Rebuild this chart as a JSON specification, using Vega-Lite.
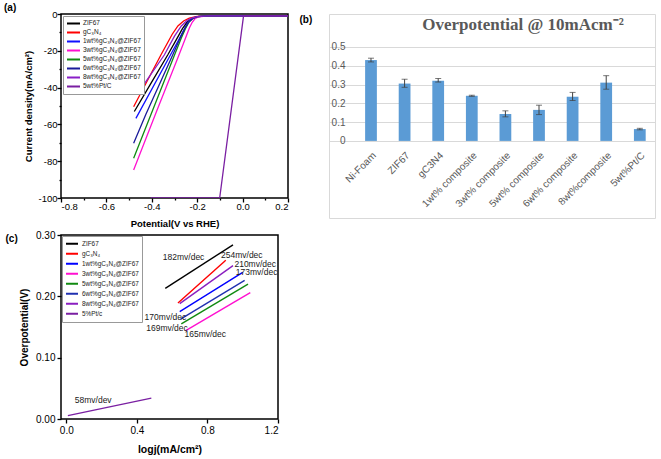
{
  "$schema": "https://vega.github.io/schema/vega-lite/v6.json",
  "background": "white",
  "padding": {"left": 3, "top": 2, "right": 2, "bottom": 2},
  "config": {"font": "Arial", "axis": {"labelOverlap": false}, "locale": {"number": {"decimal": ".", "thousands": ",", "grouping": [3], "currency": ["$", ""], "minus": "-"}}},
  "datasets": {
    "lsv": [
      {"sample": "ZIF67", "v": -0.477, "j": -53}, {"sample": "ZIF67", "v": -0.40, "j": -36.9}, {"sample": "ZIF67", "v": -0.33, "j": -22.3}, {"sample": "ZIF67", "v": -0.29, "j": -13.5}, {"sample": "ZIF67", "v": -0.265, "j": -8}, {"sample": "ZIF67", "v": -0.245, "j": -4.5}, {"sample": "ZIF67", "v": -0.225, "j": -2.5}, {"sample": "ZIF67", "v": -0.2, "j": -1.4}, {"sample": "ZIF67", "v": -0.15, "j": -1.0}, {"sample": "ZIF67", "v": 0.2, "j": -1.0},
      {"sample": "gC₃N₄", "v": -0.48, "j": -50.4}, {"sample": "gC₃N₄", "v": -0.36, "j": -22.3}, {"sample": "gC₃N₄", "v": -0.31, "j": -11}, {"sample": "gC₃N₄", "v": -0.285, "j": -6.5}, {"sample": "gC₃N₄", "v": -0.26, "j": -3.8}, {"sample": "gC₃N₄", "v": -0.235, "j": -2.3}, {"sample": "gC₃N₄", "v": -0.2, "j": -1.3}, {"sample": "gC₃N₄", "v": -0.15, "j": -1.0}, {"sample": "gC₃N₄", "v": 0.2, "j": -1.0},
      {"sample": "1wt%gC₃N₄@ZIF67", "v": -0.47, "j": -56.7}, {"sample": "1wt%gC₃N₄@ZIF67", "v": -0.318, "j": -22.3}, {"sample": "1wt%gC₃N₄@ZIF67", "v": -0.28, "j": -13.7}, {"sample": "1wt%gC₃N₄@ZIF67", "v": -0.258, "j": -8.5}, {"sample": "1wt%gC₃N₄@ZIF67", "v": -0.24, "j": -4.5}, {"sample": "1wt%gC₃N₄@ZIF67", "v": -0.222, "j": -2.5}, {"sample": "1wt%gC₃N₄@ZIF67", "v": -0.2, "j": -1.4}, {"sample": "1wt%gC₃N₄@ZIF67", "v": -0.15, "j": -1.0}, {"sample": "1wt%gC₃N₄@ZIF67", "v": 0.2, "j": -1.0},
      {"sample": "3wt%gC₃N₄@ZIF67", "v": -0.48, "j": -84.8}, {"sample": "3wt%gC₃N₄@ZIF67", "v": -0.381, "j": -53.5}, {"sample": "3wt%gC₃N₄@ZIF67", "v": -0.286, "j": -24}, {"sample": "3wt%gC₃N₄@ZIF67", "v": -0.262, "j": -16.5}, {"sample": "3wt%gC₃N₄@ZIF67", "v": -0.245, "j": -11}, {"sample": "3wt%gC₃N₄@ZIF67", "v": -0.234, "j": -7.5}, {"sample": "3wt%gC₃N₄@ZIF67", "v": -0.222, "j": -4.5}, {"sample": "3wt%gC₃N₄@ZIF67", "v": -0.21, "j": -2.6}, {"sample": "3wt%gC₃N₄@ZIF67", "v": -0.195, "j": -1.6}, {"sample": "3wt%gC₃N₄@ZIF67", "v": -0.15, "j": -1.0}, {"sample": "3wt%gC₃N₄@ZIF67", "v": 0.2, "j": -1.0},
      {"sample": "5wt%gC₃N₄@ZIF67", "v": -0.48, "j": -78.4}, {"sample": "5wt%gC₃N₄@ZIF67", "v": -0.30, "j": -22.3}, {"sample": "5wt%gC₃N₄@ZIF67", "v": -0.27, "j": -13}, {"sample": "5wt%gC₃N₄@ZIF67", "v": -0.252, "j": -8}, {"sample": "5wt%gC₃N₄@ZIF67", "v": -0.236, "j": -4.3}, {"sample": "5wt%gC₃N₄@ZIF67", "v": -0.218, "j": -2.3}, {"sample": "5wt%gC₃N₄@ZIF67", "v": -0.2, "j": -1.4}, {"sample": "5wt%gC₃N₄@ZIF67", "v": -0.15, "j": -1.0}, {"sample": "5wt%gC₃N₄@ZIF67", "v": 0.2, "j": -1.0},
      {"sample": "6wt%gC₃N₄@ZIF67", "v": -0.48, "j": -70.3}, {"sample": "6wt%gC₃N₄@ZIF67", "v": -0.426, "j": -54.5}, {"sample": "6wt%gC₃N₄@ZIF67", "v": -0.308, "j": -22.3}, {"sample": "6wt%gC₃N₄@ZIF67", "v": -0.275, "j": -13}, {"sample": "6wt%gC₃N₄@ZIF67", "v": -0.255, "j": -8}, {"sample": "6wt%gC₃N₄@ZIF67", "v": -0.238, "j": -4.5}, {"sample": "6wt%gC₃N₄@ZIF67", "v": -0.22, "j": -2.4}, {"sample": "6wt%gC₃N₄@ZIF67", "v": -0.2, "j": -1.4}, {"sample": "6wt%gC₃N₄@ZIF67", "v": -0.15, "j": -1.0}, {"sample": "6wt%gC₃N₄@ZIF67", "v": 0.2, "j": -1.0},
      {"sample": "8wt%gC₃N₄@ZIF67", "v": -0.447, "j": -40.4}, {"sample": "8wt%gC₃N₄@ZIF67", "v": -0.345, "j": -22.3}, {"sample": "8wt%gC₃N₄@ZIF67", "v": -0.3, "j": -12}, {"sample": "8wt%gC₃N₄@ZIF67", "v": -0.27, "j": -6.5}, {"sample": "8wt%gC₃N₄@ZIF67", "v": -0.245, "j": -3.5}, {"sample": "8wt%gC₃N₄@ZIF67", "v": -0.225, "j": -2.2}, {"sample": "8wt%gC₃N₄@ZIF67", "v": -0.2, "j": -1.4}, {"sample": "8wt%gC₃N₄@ZIF67", "v": -0.15, "j": -1.0}, {"sample": "8wt%gC₃N₄@ZIF67", "v": 0.2, "j": -1.0},
      {"sample": "5wt%Pt/C", "v": -0.405, "j": -100}, {"sample": "5wt%Pt/C", "v": -0.101, "j": -100}, {"sample": "5wt%Pt/C", "v": 0.004, "j": -1.2}, {"sample": "5wt%Pt/C", "v": 0.02, "j": -1.0}, {"sample": "5wt%Pt/C", "v": 0.2, "j": -1.0}
    ],
    "tafel": [
      {"series": "ZIF67", "lj": 0.561, "eta": 0.213}, {"series": "ZIF67", "lj": 0.945, "eta": 0.284},
      {"series": "gC₃N₄", "lj": 0.633, "eta": 0.189}, {"series": "gC₃N₄", "lj": 0.904, "eta": 0.259},
      {"series": "1wt%gC₃N₄@ZIF67", "lj": 0.643, "eta": 0.175}, {"series": "1wt%gC₃N₄@ZIF67", "lj": 1.0, "eta": 0.239},
      {"series": "3wt%gC₃N₄@ZIF67", "lj": 0.677, "eta": 0.144}, {"series": "3wt%gC₃N₄@ZIF67", "lj": 1.043, "eta": 0.206},
      {"series": "5wt%gC₃N₄@ZIF67", "lj": 0.652, "eta": 0.155}, {"series": "5wt%gC₃N₄@ZIF67", "lj": 1.03, "eta": 0.220},
      {"series": "6wt%gC₃N₄@ZIF67", "lj": 0.648, "eta": 0.163}, {"series": "6wt%gC₃N₄@ZIF67", "lj": 1.011, "eta": 0.226},
      {"series": "8wt%gC₃N₄@ZIF67", "lj": 0.643, "eta": 0.188}, {"series": "8wt%gC₃N₄@ZIF67", "lj": 0.945, "eta": 0.250},
      {"series": "5%Pt/c", "lj": 0.009, "eta": 0.0054}, {"series": "5%Pt/c", "lj": 0.482, "eta": 0.034}
    ],
    "ann": [
      {"t": "182mv/dec", "x": 0.547, "y": 0.264},
      {"t": "254mv/dec", "x": 0.877, "y": 0.268},
      {"t": "210mv/dec", "x": 0.953, "y": 0.253},
      {"t": "173mv/dec", "x": 0.961, "y": 0.239},
      {"t": "170mv/dec", "x": 0.444, "y": 0.167},
      {"t": "169mv/dec", "x": 0.453, "y": 0.148},
      {"t": "165mv/dec", "x": 0.670, "y": 0.139},
      {"t": "58mv/dev", "x": 0.048, "y": 0.0315}
    ],
    "overpot": [
      {"cat": "Ni-Foam", "v": 0.43, "lo": 0.42, "hi": 0.44},
      {"cat": "ZIF67", "v": 0.305, "lo": 0.285, "hi": 0.328},
      {"cat": "gC3N4", "v": 0.32, "lo": 0.313, "hi": 0.332},
      {"cat": "1wt% composite", "v": 0.24, "lo": 0.237, "hi": 0.243},
      {"cat": "3wt% composite", "v": 0.143, "lo": 0.128, "hi": 0.16},
      {"cat": "5wt% composite", "v": 0.165, "lo": 0.14, "hi": 0.19},
      {"cat": "6wt% composite", "v": 0.235, "lo": 0.215, "hi": 0.258},
      {"cat": "8wt%composite", "v": 0.31, "lo": 0.275, "hi": 0.347},
      {"cat": "5wt%Pt/C", "v": 0.063, "lo": 0.059, "hi": 0.067}
    ]
  },
  "spacing": 8,
  "hconcat": [
    {
      "vconcat": [
        {
          "width": 227,
          "height": 184,
          "title": {"text": "(a)", "anchor": "start", "frame": "bounds", "fontSize": 10, "fontWeight": "bold", "dx": -20, "offset": -4},
          "view": {"stroke": "black", "strokeWidth": 1.5},
          "data": {"name": "lsv"},
          "mark": {"type": "line", "strokeWidth": 1.3, "clip": true},
          "encoding": {
            "x": {"field": "v", "type": "quantitative", "scale": {"domain": [-0.8, 0.2], "nice": false, "zero": false},
              "axis": {"values": [-0.8, -0.7, -0.6, -0.5, -0.4, -0.3, -0.2, -0.1, 0, 0.1, 0.2],
                "labelExpr": "abs(round(datum.value * 10)) % 2 == 0 ? format(datum.value, '.1f') : ''",
                "tickSize": {"condition": {"test": "abs(round(datum.value * 10)) % 2 == 0", "value": 4}, "value": 2},
                "labelOverlap": false, "labelBound": false,
                "title": "Potential(V vs RHE)", "titleFontSize": 9.5, "titleFontWeight": "bold", "titleColor": "black", "labelFontSize": 9.5, "labelColor": "black", "tickColor": "black", "tickWidth": 1.3, "domain": false, "grid": false, "labelPadding": -1, "titlePadding": 8}},
            "y": {"field": "j", "type": "quantitative", "scale": {"domain": [-100, 0], "nice": false, "zero": false},
              "axis": {"values": [-100, -90, -80, -70, -60, -50, -40, -30, -20, -10, 0],
                "labelExpr": "abs(round(datum.value)) % 20 == 0 ? format(datum.value, 'd') : ''",
                "tickSize": {"condition": {"test": "abs(round(datum.value)) % 20 == 0", "value": 4}, "value": 2},
                "labelOverlap": false, "labelBound": false,
                "title": "Current density(mA/cm²)", "titleFontSize": 9.5, "titleFontWeight": "bold", "titleColor": "black", "labelFontSize": 9.5, "labelColor": "black", "tickColor": "black", "tickWidth": 1.3, "domain": false, "grid": false, "labelPadding": 0, "titlePadding": 4}},
            "color": {"field": "sample", "type": "nominal",
              "scale": {"domain": ["ZIF67", "gC₃N₄", "1wt%gC₃N₄@ZIF67", "3wt%gC₃N₄@ZIF67", "5wt%gC₃N₄@ZIF67", "6wt%gC₃N₄@ZIF67", "8wt%gC₃N₄@ZIF67", "5wt%Pt/C"],
                "range": ["#000000", "#ff0000", "#1010ff", "#ff10d0", "#108a10", "#1a1a9a", "#8a1fc8", "#7a1fa2"]},
              "legend": {"title": null, "orient": "top-left", "offset": 2, "padding": 3, "strokeColor": "#999", "fillColor": "white", "symbolType": "stroke", "symbolSize": 169, "symbolStrokeWidth": 2, "labelFontSize": 6.5, "labelColor": "#222", "rowPadding": 0, "clipHeight": 8.8, "labelOffset": 2}}
          }
        },
        {
          "width": 217,
          "height": 184,
          "title": {"text": "(c)", "anchor": "start", "frame": "bounds", "fontSize": 10, "fontWeight": "bold", "dx": -14, "offset": -14},
          "view": {"stroke": "black", "strokeWidth": 1.5},
          "layer": [
            {
              "data": {"name": "tafel"},
              "mark": {"type": "line", "strokeWidth": 1.4, "clip": true},
              "encoding": {
                "x": {"field": "lj", "type": "quantitative", "scale": {"domain": [-0.03, 1.2], "nice": false, "zero": false},
                  "axis": {"values": [0, 0.2, 0.4, 0.6, 0.8, 1.0, 1.2], "format": ".1f", "labelOverlap": false,
                    "title": "logj(mA/cm²)", "titleFontSize": 10.5, "titleFontWeight": "bold", "titleColor": "black", "labelFontSize": 10, "labelColor": "black", "tickSize": 4, "tickColor": "black", "tickWidth": 1.3, "domain": false, "grid": false, "labelPadding": 2, "titlePadding": 9}},
                "y": {"field": "eta", "type": "quantitative", "scale": {"domain": [0, 0.3], "nice": false, "zero": false},
                  "axis": {"values": [0, 0.05, 0.1, 0.15, 0.2, 0.25, 0.3], "format": ".2f", "labelOverlap": false,
                    "title": "Overpotential(V)", "titleFontSize": 10, "titleFontWeight": "bold", "titleColor": "black", "labelFontSize": 10, "labelColor": "black", "tickSize": 4, "tickColor": "black", "tickWidth": 1.3, "domain": false, "grid": false, "labelPadding": 2, "titlePadding": 6}},
                "color": {"field": "series", "type": "nominal",
                  "scale": {"domain": ["ZIF67", "gC₃N₄", "1wt%gC₃N₄@ZIF67", "3wt%gC₃N₄@ZIF67", "5wt%gC₃N₄@ZIF67", "6wt%gC₃N₄@ZIF67", "8wt%gC₃N₄@ZIF67", "5%Pt/c"],
                    "range": ["#000000", "#ff0000", "#0000ff", "#ff10d0", "#108a10", "#2030b0", "#8a1fc0", "#7a1fa2"]},
                  "legend": {"title": null, "orient": "top-left", "offset": 1, "padding": 3, "strokeColor": "#999", "fillColor": "white", "symbolType": "stroke", "symbolSize": 144, "symbolStrokeWidth": 2, "labelFontSize": 6.4, "labelColor": "#222", "rowPadding": 0, "clipHeight": 9.5, "labelOffset": 3}}
              }
            },
            {
              "data": {"name": "ann"},
              "mark": {"type": "text", "align": "left", "baseline": "middle", "fontSize": 8.5, "color": "#1a1a1a"},
              "encoding": {
                "x": {"field": "x", "type": "quantitative"},
                "y": {"field": "y", "type": "quantitative"},
                "text": {"field": "t"}
              }
            }
          ]
        }
      ],
      "spacing": 0,
      "resolve": {"scale": {"color": "independent"}, "legend": {"color": "independent"}}
    },
    {
      "width": 326,
      "height": 204,
      "view": {"stroke": "#d9d9d9", "strokeWidth": 1},
      "title": {"text": "Overpotential @ 10mAcm⁻²", "font": "Liberation Serif", "fontSize": 17, "fontWeight": "bold", "color": "#595959", "anchor": "middle", "dx": 31, "offset": -28, "baseline": "middle"},
      "data": {"name": "overpot"},
      "encoding": {
        "x": {"field": "cat", "type": "nominal", "sort": null, "scale": {"paddingInner": 0.65, "paddingOuter": 0.676, "align": 0.795},
          "axis": {"offset": -71, "domain": false, "ticks": false, "labelAngle": -45, "labelFontSize": 10, "labelColor": "#595959", "labelPadding": 3, "title": null}}
      },
      "layer": [
        {
          "mark": {"type": "bar", "color": "#5b9bd5"},
          "encoding": {
            "y": {"field": "v", "type": "quantitative", "scale": {"domain": [-0.41, 0.675], "nice": false, "zero": false},
              "axis": {"values": [0, 0.1, 0.2, 0.3, 0.4, 0.5], "labelExpr": "datum.value == 0 ? '0' : format(datum.value, '.1f')", "domain": false, "ticks": false, "grid": true, "gridColor": "#d9d9d9", "labelPadding": -16, "labelFontSize": 10, "labelColor": "#595959", "title": "(b)", "titleAngle": 0, "titleX": -30, "titleY": 5, "titleAlign": "left", "titleBaseline": "middle", "titleFontSize": 10, "titleFontWeight": "bold", "titleColor": "black"}}
          }
        },
        {
          "mark": {"type": "rule", "color": "#404040", "strokeWidth": 1},
          "encoding": {
            "y": {"field": "lo", "type": "quantitative"},
            "y2": {"field": "hi"}
          }
        },
        {
          "mark": {"type": "tick", "color": "#404040", "size": 6, "thickness": 1},
          "encoding": {
            "y": {"field": "hi", "type": "quantitative"}
          }
        },
        {
          "mark": {"type": "tick", "color": "#404040", "size": 6, "thickness": 1},
          "encoding": {
            "y": {"field": "lo", "type": "quantitative"}
          }
        }
      ]
    }
  ]
}
